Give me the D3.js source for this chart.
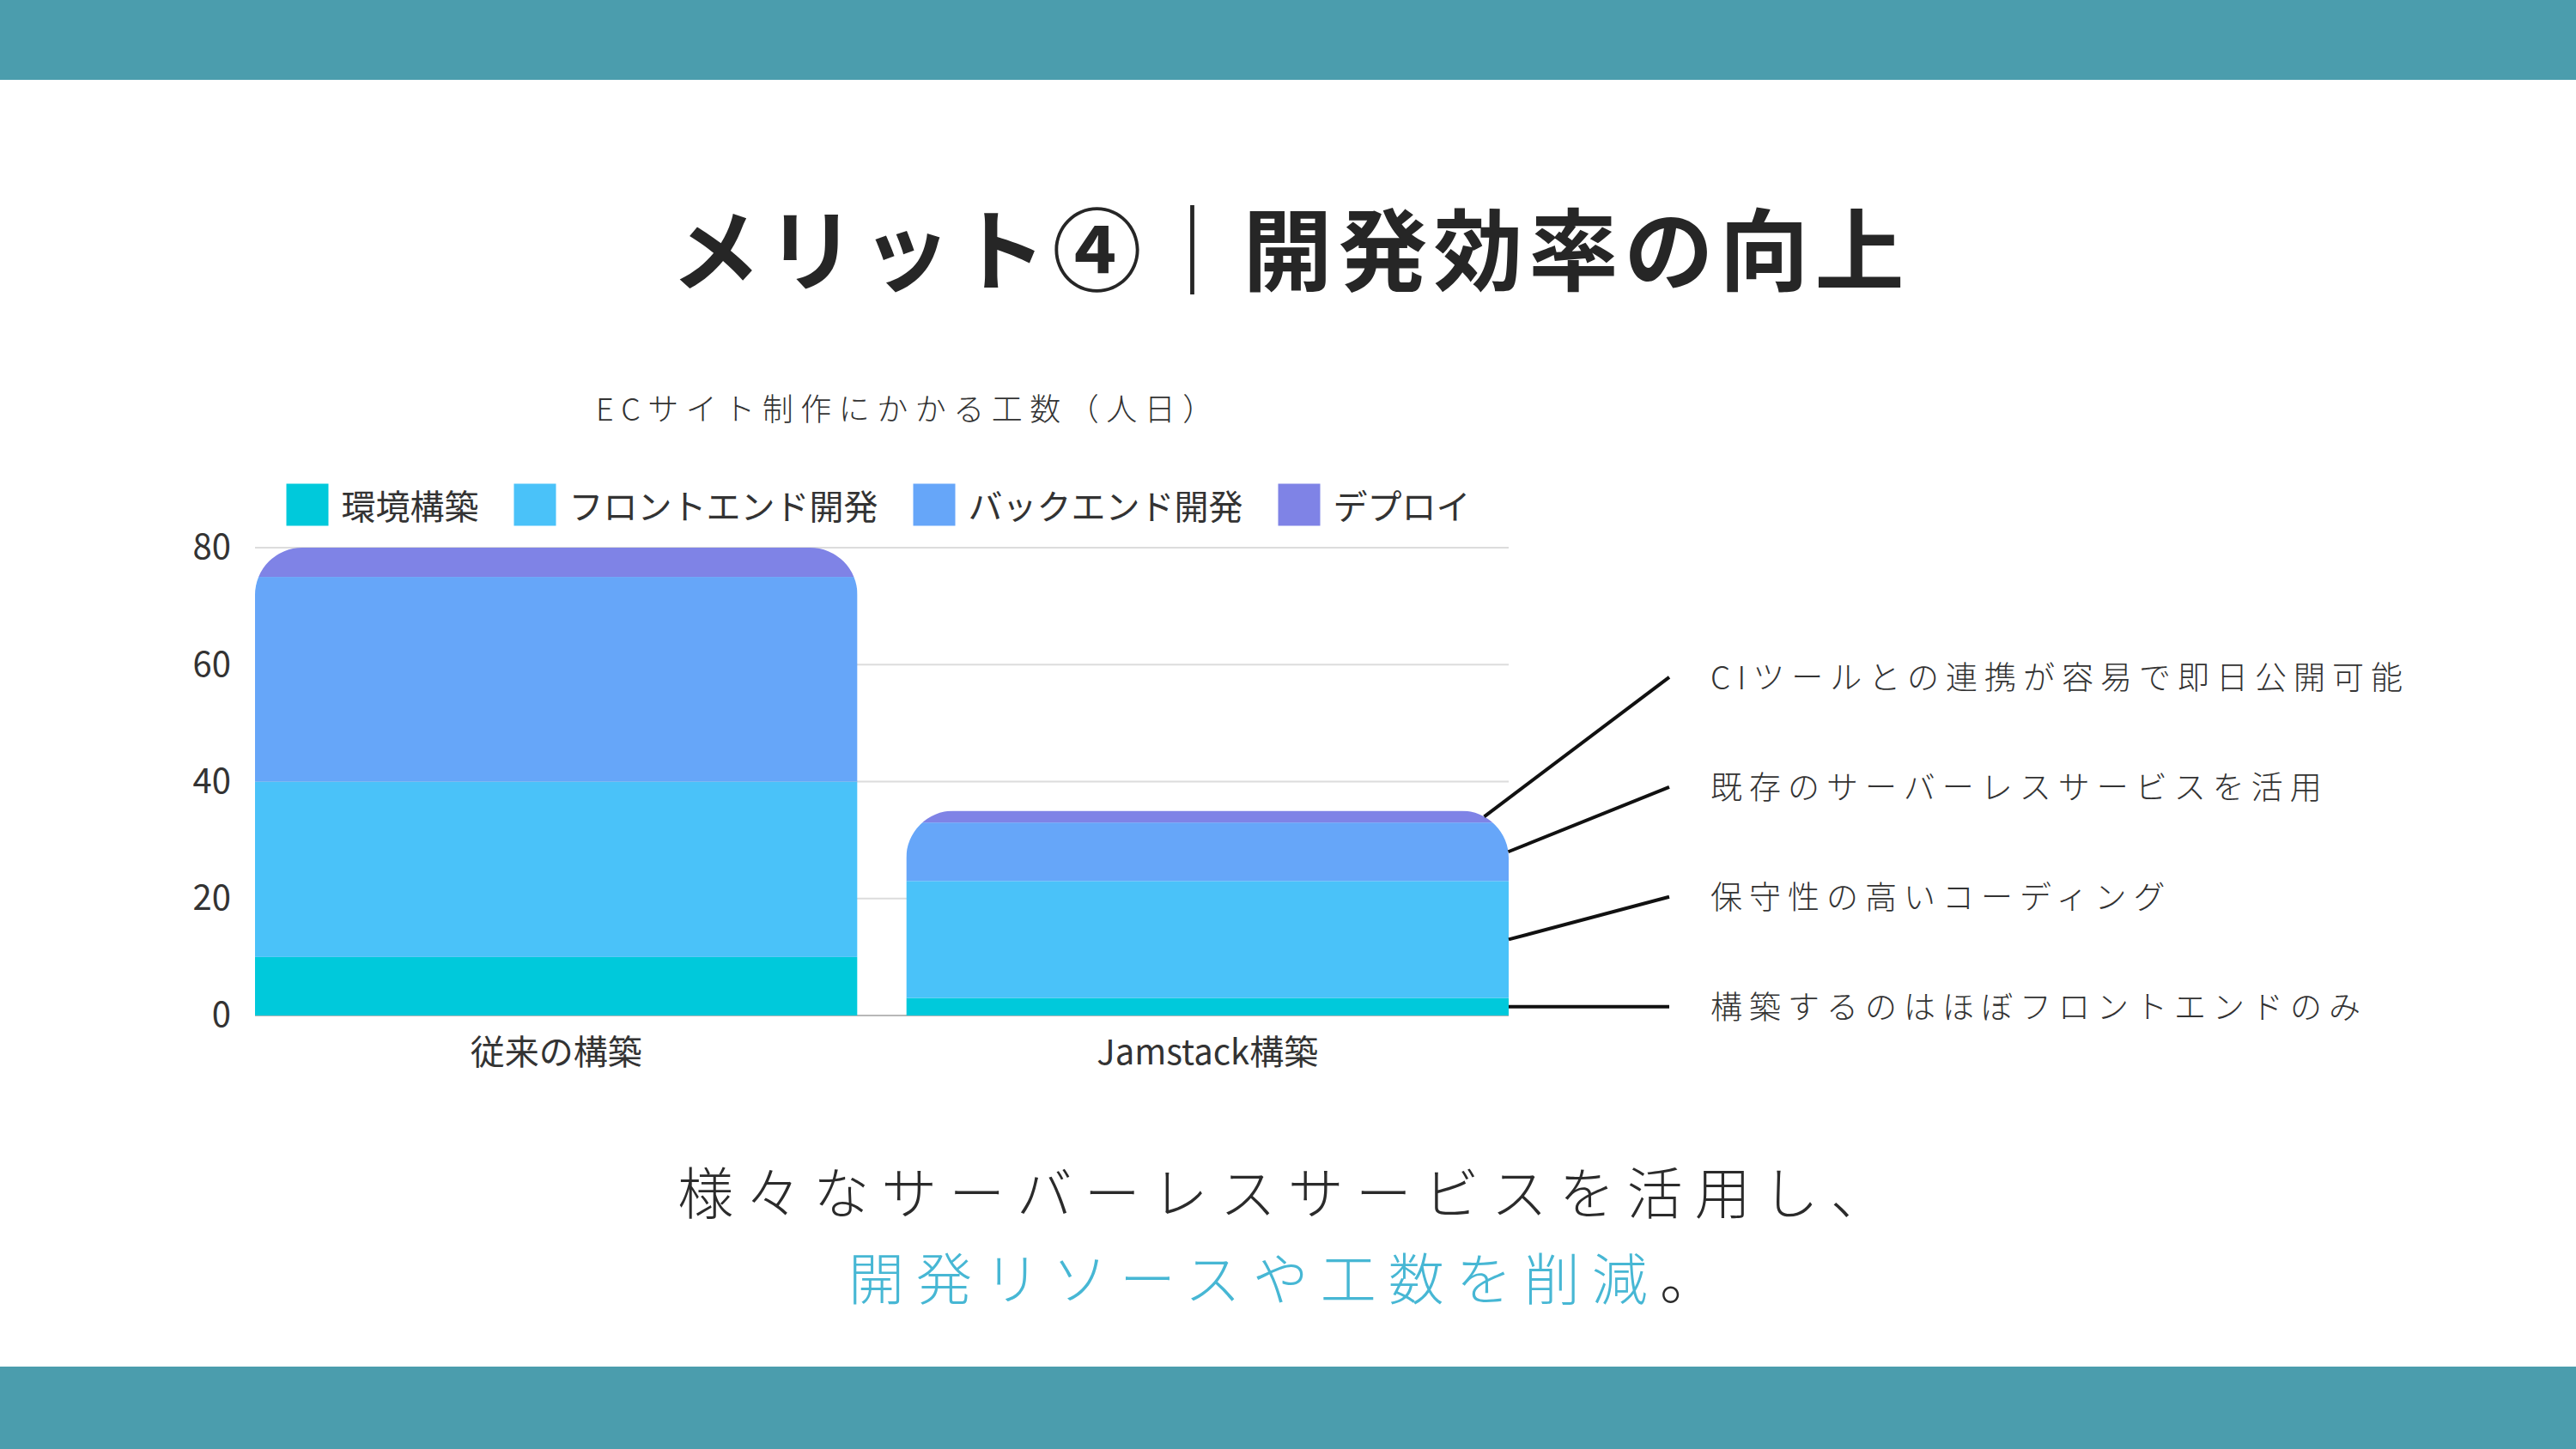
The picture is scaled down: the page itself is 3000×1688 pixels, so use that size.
<!DOCTYPE html>
<html>
<head>
<meta charset="utf-8">
<script src="https://cdn.jsdelivr.net/npm/d3@7"></script>
<style>
  body { margin: 0; background: #fff; }
  svg text { font-family: "Noto Sans CJK JP", "Noto Sans", sans-serif; }
</style>
</head>
<body>
<svg id="slide" width="3000" height="1688"></svg>
<script>
// chart data
const categories = ["従来の構築", "Jamstack構築"];
const seriesNames = ["環境構築", "フロントエンド開発", "バックエンド開発", "デプロイ"];
const envValues = [10, 3];
const frontValues = [30, 20];
const backValues = [35, 10];
const deployValues = [5, 2];
const yTicks = [0, 20, 40, 60, 80];
// notes for the Jamstack bar, bottom segment first
const notes = [
  "構築するのはほぼフロントエンドのみ",
  "保守性の高いコーディング",
  "既存のサーバーレスサービスを活用",
  "CIツールとの連携が容易で即日公開可能"
];
const colors = ["#00c9db", "#4ac2f9", "#66a6f9", "#7f83e6"];

const rows = categories.map(function (c, i) {
  return {
    cat: c,
    "環境構築": envValues[i],
    "フロントエンド開発": frontValues[i],
    "バックエンド開発": backValues[i],
    "デプロイ": deployValues[i]
  };
});

const svg = d3.select("#slide");

// header / footer bands
svg.append("rect").attr("x", 0).attr("y", 0).attr("width", 3000).attr("height", 93).attr("fill", "#4b9dad");
svg.append("rect").attr("x", 0).attr("y", 1592).attr("width", 3000).attr("height", 96).attr("fill", "#4b9dad");

// slide title
svg.append("text")
  .attr("x", 1503).attr("y", 285)
  .attr("text-anchor", "middle")
  .attr("dominant-baseline", "central")
  .attr("font-size", 104).attr("font-weight", 700)
  .attr("letter-spacing", 7)
  .attr("fill", "#262626")
  .text("メリット④｜開発効率の向上");

// scales
const x = d3.scaleBand().domain(categories).range([297, 1757]).paddingInner(0.075).paddingOuter(0);
const y = d3.scaleLinear().domain([0, 80]).range([1183, 638]);
const color = d3.scaleOrdinal().domain(seriesNames).range(colors);
const bw = x.bandwidth();
const r = 55;

// chart title
svg.append("text")
  .attr("x", 694).attr("y", 474)
  .attr("dominant-baseline", "central")
  .attr("font-size", 36).attr("font-weight", 300)
  .attr("letter-spacing", 8.5)
  .attr("fill", "#333")
  .text("ECサイト制作にかかる工数（人日）");

// legend, centred over the plot
const legend = svg.append("g").attr("transform", "translate(0,588)");
let lx = 0;
seriesNames.forEach(function (name) {
  legend.append("rect").attr("x", lx).attr("y", -24.5).attr("width", 49).attr("height", 49).attr("fill", color(name));
  const t = legend.append("text")
    .attr("x", lx + 64).attr("y", 0)
    .attr("dominant-baseline", "central")
    .attr("font-size", 40).attr("fill", "#333")
    .text(name);
  lx += 64 + t.node().getComputedTextLength() + 41;
});
lx -= 41;
legend.attr("transform", "translate(" + (1023 - lx / 2) + ",588)");

// grid
svg.append("g").selectAll("line")
  .data(yTicks)
  .enter().append("line")
  .attr("x1", 297).attr("x2", 1757)
  .attr("y1", function (d) { return y(d); })
  .attr("y2", function (d) { return y(d); })
  .attr("stroke", function (d) { return d === 0 ? "#b8b8b8" : "#dcdcdc"; })
  .attr("stroke-width", 2);

// y axis
const yAxis = svg.append("g")
  .attr("transform", "translate(297,0)")
  .call(d3.axisLeft(y).tickValues(yTicks).tickSize(0).tickPadding(28));
yAxis.select(".domain").remove();
yAxis.selectAll("text")
  .attr("font-size", 40).attr("fill", "#333")
  .attr("font-family", "\"Noto Sans CJK JP\", sans-serif");

// x axis
const xAxis = svg.append("g")
  .attr("transform", "translate(0,1183)")
  .call(d3.axisBottom(x).tickSize(0));
xAxis.select(".domain").remove();
xAxis.selectAll("text")
  .attr("y", 40).attr("dy", null)
  .attr("dominant-baseline", "central")
  .attr("font-size", 40).attr("fill", "#333")
  .attr("font-family", "\"Noto Sans CJK JP\", sans-serif");

// stacked bars with rounded tops
const stacked = d3.stack().keys(seriesNames)(rows);
const defs = svg.append("defs");

function topPath(cat) {
  const x0 = x(cat), x1 = x0 + bw;
  const i = categories.indexOf(cat);
  const yt = y(stacked[stacked.length - 1][i][1]);
  const yb = y(0);
  return "M" + x0 + "," + yb + "V" + (yt + r) +
    "A" + r + "," + r + " 0 0 1 " + (x0 + r) + "," + yt +
    "H" + (x1 - r) +
    "A" + r + "," + r + " 0 0 1 " + x1 + "," + (yt + r) +
    "V" + yb + "Z";
}

categories.forEach(function (cat, i) {
  defs.append("clipPath").attr("id", "clip" + i).append("path").attr("d", topPath(cat));
  const g = svg.append("g").attr("clip-path", "url(#clip" + i + ")");
  g.selectAll("rect")
    .data(stacked)
    .enter().append("rect")
    .attr("x", x(cat))
    .attr("width", bw)
    .attr("y", function (s) { return y(s[i][1]); })
    .attr("height", function (s) { return y(s[i][0]) - y(s[i][1]); })
    .attr("fill", function (s) { return color(s.key); });
});

// callouts for the Jamstack bar
const ci = 1;
const cat = categories[ci];
const barRight = x(cat) + bw;
const barTop = y(stacked[stacked.length - 1][ci][1]);
const baseNoteY = y((stacked[0][ci][0] + stacked[0][ci][1]) / 2);

stacked.forEach(function (s, k) {
  const ym = y((s[ci][0] + s[ci][1]) / 2);
  let xs = barRight;
  if (ym < barTop + r) {
    const dy = barTop + r - ym;
    xs = barRight - r + Math.sqrt(Math.max(0, r * r - dy * dy));
  }
  const ny = baseNoteY - k * 128;
  svg.append("line")
    .attr("x1", xs).attr("y1", ym)
    .attr("x2", 1944).attr("y2", ny)
    .attr("stroke", "#111").attr("stroke-width", 4);
  svg.append("text")
    .attr("x", 1992).attr("y", ny - 2)
    .attr("dominant-baseline", "central")
    .attr("font-size", 37).attr("font-weight", 300)
    .attr("letter-spacing", 8)
    .attr("fill", "#333")
    .text(notes[k]);
});

// closing message
svg.append("text")
  .attr("x", 1500).attr("y", 1386)
  .attr("text-anchor", "middle")
  .attr("dominant-baseline", "central")
  .attr("font-size", 65).attr("font-weight", 300)
  .attr("letter-spacing", 14)
  .attr("fill", "#2b2b2b")
  .text("様々なサーバーレスサービスを活用し、");

const last = svg.append("text")
  .attr("x", 1500).attr("y", 1486)
  .attr("text-anchor", "middle")
  .attr("dominant-baseline", "central")
  .attr("font-size", 65).attr("font-weight", 300)
  .attr("letter-spacing", 14);
last.append("tspan").attr("fill", "#47b7d4").text("開発リソースや工数を削減");
last.append("tspan").attr("fill", "#2b2b2b").text("。");
</script>
</body>
</html>
